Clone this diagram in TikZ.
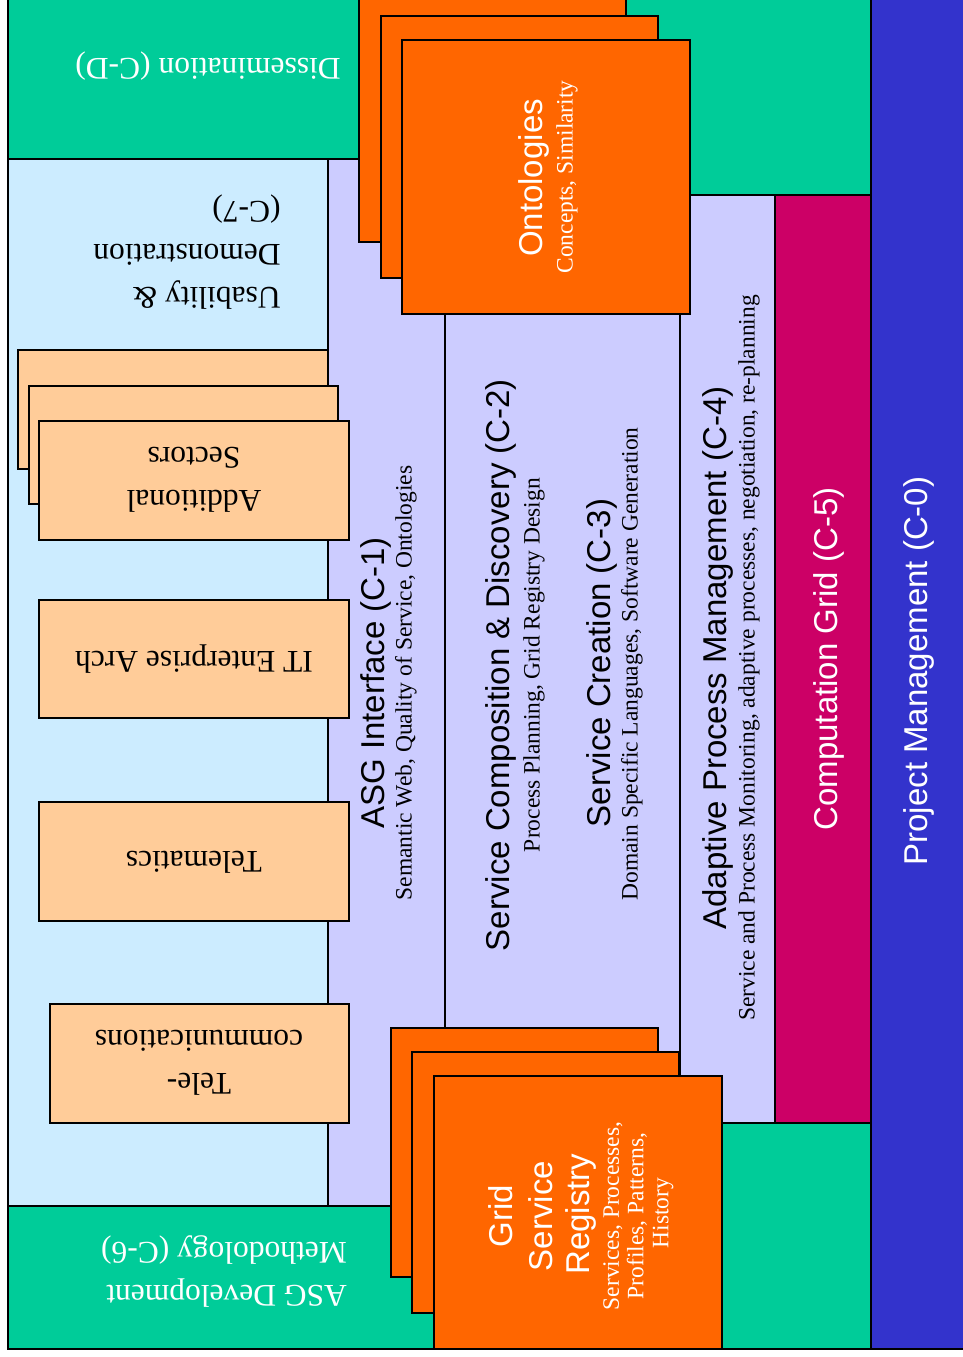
\documentclass[tikz,border=0pt]{standalone}
\usepackage{fontspec}
\setmainfont{Liberation Serif}
\newfontfamily\sansf{Liberation Sans}
\definecolor{cgreen}{HTML}{00CC99}
\definecolor{cblue}{HTML}{3333CC}
\definecolor{cmag}{HTML}{CC0066}
\definecolor{clav}{HTML}{CCCCFF}
\definecolor{clight}{HTML}{CCECFF}
\definecolor{corange}{HTML}{FF6600}
\definecolor{cpeach}{HTML}{FFCC99}
\tikzset{
  box/.style={draw=black, line width=1.2pt},
  serifbig/.style={font=\fontsize{31.5}{43}\selectfont, inner sep=0pt},
  hd/.style={font=\sansf\fontsize{33}{39}\selectfont, inner sep=0pt},
  sub/.style={font=\fontsize{23.5}{26}\selectfont, inner sep=0pt},
  upside/.style={serifbig, rotate=180},
  up/.style={rotate=90}
}
\begin{document}
\begin{tikzpicture}[x=1pt,y=-1pt]
\useasboundingbox (0,0) rectangle (962,1357);
\fill[white] (0,0) rectangle (962,1357);
% green background
\fill[cgreen] (8,-5) rectangle (871,1349);
\draw[box] (8,-5) -- (8,1349) -- (871,1349);
% project management column
\draw[box, fill=cblue] (871,-5) rectangle (970,1349);
% usability region
\draw[box, fill=clight] (8,159) rectangle (328,1206);
% lavender layers
\draw[box, fill=clav] (328,159) rectangle (445,1206);
\draw[box, fill=clav] (445,159) rectangle (680,1206);
\draw[box, fill=clav] (680,195) rectangle (775,1123);
\draw[box, fill=cmag] (775,195) rectangle (871,1123);
% ontologies stack
\draw[box, fill=corange] (359,-5) rectangle (626,242);
\draw[box, fill=corange] (381,16) rectangle (658,278);
\draw[box, fill=corange] (402,40) rectangle (690,314);
% grid service registry stack
\draw[box, fill=corange] (391,1028) rectangle (658,1277);
\draw[box, fill=corange] (412,1052) rectangle (679,1313);
\draw[box, fill=corange] (434,1076) rectangle (722,1349);
% sector boxes
\draw[box, fill=cpeach] (18,350) rectangle (328,469);
\draw[box, fill=cpeach] (29,386) rectangle (338,504);
\draw[box, fill=cpeach] (39,421) rectangle (349,540);
\draw[box, fill=cpeach] (39,600) rectangle (349,718);
\draw[box, fill=cpeach] (39,802) rectangle (349,921);
\draw[box, fill=cpeach] (50,1004) rectangle (349,1123);

% upside-down texts
\node[upside, text=white] (cd) at (208,66) {Dissemination (C-D)};
\node[upside, align=left] (c7) at (187,252) {Usability \&\\Demonstration\\(C-7)};
\node[upside, align=left, text=white] (c6) at (224,1272) {ASG Development\\Methodology (C-6)};
\node[upside, align=center] (addl) at (194,480) {Additional\\Sectors};
\node[upside] (itea) at (194,659) {IT Enterprise Arch};
\node[upside] (telem) at (194,862) {Telematics};
\node[upside, align=center] (telco) at (199,1063) {Tele-\\communications};

% layer texts
\node[hd, up] (c1) at (376,683) {ASG Interface (C-1)};
\node[sub, up] (c1s) at (406,683) {Semantic Web, Quality of Service, Ontologies};
\node[hd, up] (c2) at (501,665) {Service Composition \& Discovery (C-2)};
\node[sub, up] (c2s) at (534,665) {Process Planning, Grid Registry Design};
\node[hd, up] (c3) at (602,663) {Service Creation (C-3)};
\node[sub, up] (c3s) at (632,664) {Domain Specific Languages, Software Generation};
\node[hd, up] (c4) at (718,658) {Adaptive Process Management (C-4)};
\node[sub, up] (c4s) at (749,658) {Service and Process Monitoring, adaptive processes, negotiation, re-planning};
\node[hd, up, text=white] (c5) at (829,659) {Computation Grid (C-5)};
\node[hd, up, text=white] (c0) at (919,671) {Project Management (C-0)};

% ontologies
\node[hd, up, text=white] (onto) at (534,178) {Ontologies};
\node[sub, up, text=white] (ontos) at (567,177) {Concepts, Similarity};

% grid service registry
\node[hd, up, text=white] (gsr1) at (501,1216) {Grid};
\node[hd, up, text=white] (gsr2) at (541,1216) {Service};
\node[hd, up, text=white] (gsr3) at (581,1214) {Registry};
\node[sub, up, text=white] (gsr4) at (613,1216) {Services, Processes,};
\node[sub, up, text=white] (gsr5) at (637,1216) {Profiles, Patterns,};
\node[sub, up, text=white] (gsr6) at (663,1213) {History};
\end{tikzpicture}
\end{document}
